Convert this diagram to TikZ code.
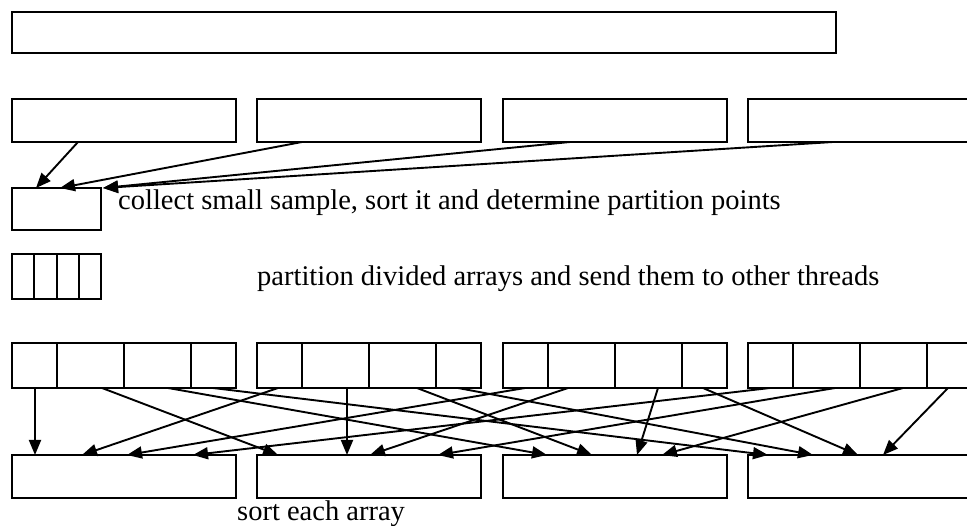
\documentclass[tikz,border=0pt]{standalone}
\usepackage{fontspec}
\setmainfont{Liberation Serif}
\usetikzlibrary{arrows.meta}

\begin{document}
\begin{tikzpicture}[x=1pt, y=-1pt,
  frame/.style={draw, line width=2pt, inner sep=0pt, outer sep=0pt, anchor=north west},
  chunk/.style={frame, minimum width=224pt, minimum height=43pt},
  piece/.style={frame, minimum height=45pt},
  flow/.style={line width=1.9pt, -{Triangle[length=15pt, width=12pt]}},
  note/.style={anchor=base west, inner sep=0pt, font=\fontsize{28.5}{34}\selectfont}]

  \useasboundingbox (0,0) rectangle (967,526);
  \fill[white] (0,0) rectangle (967,526);
  \clip (0,0) rectangle (967,526);

  % whole input array
  \node[frame, minimum width=824pt, minimum height=41pt] (all) at (12,12) {};

  % the array divided among four threads
  \foreach \k/\x in {1/12, 2/257, 3/503, 4/748}
    \node[chunk] (t\k) at (\x,99) {};

  % sample and partition points
  \node[frame, minimum width=89pt, minimum height=42pt] (smp) at (12,188) {};
  \foreach \i/\x in {1/12, 2/34.25, 3/56.5, 4/78.75}
    \node[frame, minimum width=22.25pt, minimum height=45pt] (q\i) at (\x,254) {};

  % each thread's array split into four parts
  \foreach \k/\x in {1/12, 2/257, 3/503, 4/748} {
    \node[piece, minimum width=45pt] (c\k1) at (\x,343) {};
    \node[piece, minimum width=67pt] (c\k2) at (\x+45,343) {};
    \node[piece, minimum width=67pt] (c\k3) at (\x+112,343) {};
    \node[piece, minimum width=45pt] (c\k4) at (\x+179,343) {};
  }

  % arrays gathered by each thread
  \foreach \k/\x in {1/12, 2/257, 3/503, 4/748}
    \node[chunk] (s\k) at (\x,455) {};

  % sampling
  \foreach \k/\a/\b in {1/66/24, 2/45/48, 3/67/91, 4/85/91}
    \draw[flow] ([xshift=\a pt]t\k.south west) -- ([xshift=\b pt]smp.north west);

  % part j of thread k goes to thread j
  \foreach \k/\j/\a/\b in {
      1/1/23/23, 1/2/45/21, 1/3/44/44, 1/4/22/20,
      2/1/21/70, 2/2/45/90, 2/3/48/89, 2/4/22/65,
      3/1/22/115, 3/2/20/113, 3/3/43/134, 3/4/21/110,
      4/1/22/181, 4/2/42/181, 4/3/43/159, 4/4/21/135}
    \draw[flow] ([xshift=\a pt]c\k\j.south west) -- ([xshift=\b pt]s\j.north west);

  % step descriptions
  \node[note] (n1) at (118,210) {collect small sample, sort it and determine partition points};
  \node[note] (n2) at (257,286) {partition divided arrays and send them to other threads};
  \node[note] (n3) at (237,521) {sort each array};
\end{tikzpicture}
\end{document}
